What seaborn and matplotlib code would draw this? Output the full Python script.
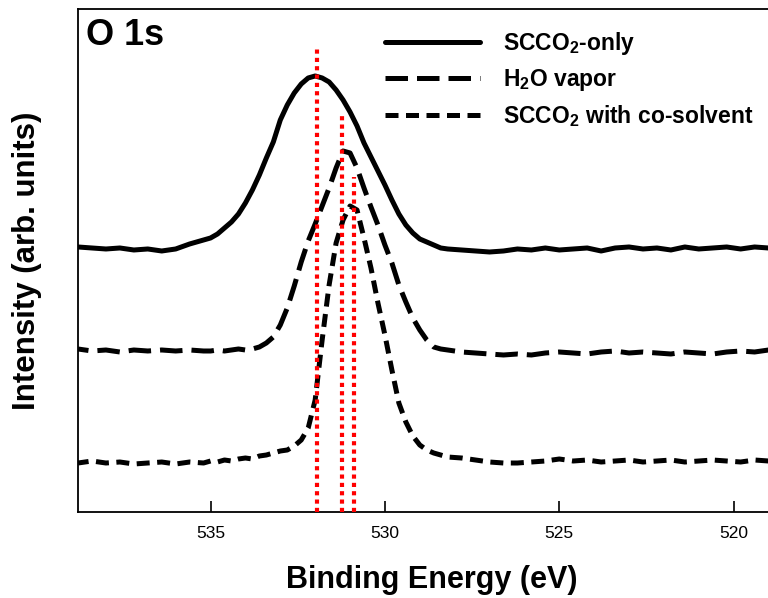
import matplotlib
matplotlib.use("Agg")
import matplotlib.pyplot as plt
import seaborn as sns
import pandas as pd

# ---------------- data ----------------
energy = [538.8, 538.4, 538.0, 537.6, 537.2, 536.8, 536.4, 536.0, 535.6, 535.2,
          535.0, 534.8, 534.6, 534.4, 534.2, 534.0, 533.8, 533.6, 533.4, 533.2,
          533.0, 532.8, 532.6, 532.4, 532.2, 532.0, 531.8, 531.6, 531.4, 531.2,
          531.0, 530.8, 530.6, 530.4, 530.2, 530.0, 529.8, 529.6, 529.4, 529.2,
          529.0, 528.8, 528.6, 528.4, 528.2,
          527.8, 527.4, 527.0, 526.6, 526.2, 525.8, 525.4, 525.0, 524.6, 524.2,
          523.8, 523.4, 523.0, 522.6, 522.2, 521.8, 521.4, 521.0, 520.6, 520.2,
          519.8, 519.4, 519.0]

scco2_only = [265, 264, 263, 264, 262, 263, 261, 263, 268, 272,
              274, 278, 284, 290, 298, 309, 322, 337, 354, 370,
              392, 407, 419, 428, 434, 436, 434, 430, 422, 412,
              400, 386, 369, 355, 341, 327, 312, 298, 287, 279,
              273, 270, 267, 264, 263,
              262, 261, 260, 261, 263, 262, 264, 262, 263, 264,
              261, 264, 265, 263, 264, 262, 265, 263, 264, 265,
              263, 265, 264]

h2o_vapor = [163, 161, 162, 160, 162, 161, 162, 161, 162, 161,
             161, 162, 161, 162, 163, 162, 163, 165, 169, 175,
             187, 204, 226, 250, 271, 288, 306, 324, 344, 361,
             359, 344, 324, 305, 287, 267, 249, 227, 210, 194,
             182, 172, 165, 163, 162,
             160, 159, 158, 157, 158, 157, 159, 160, 159, 158,
             160, 161, 159, 160, 159, 158, 160, 159, 158, 160,
             161, 160, 162]

scco2_cosolvent = [49, 51, 49, 50, 48, 49, 50, 48, 50, 49,
                   51, 50, 52, 51, 53, 54, 53, 56, 57, 59,
                   61, 62, 66, 72, 84, 112, 172, 227, 269, 292,
                   306, 302, 274, 244, 209, 177, 142, 109, 90, 76,
                   67, 62, 59, 57, 55,
                   54, 52, 50, 49, 49, 50, 51, 53, 51, 52,
                   50, 51, 52, 50, 51, 52, 50, 51, 52, 51,
                   50, 52, 51]

series_labels = [r"SCCO$_\mathbf{2}$-only", r"H$_\mathbf{2}$O vapor",
                 r"SCCO$_\mathbf{2}$ with co-solvent"]
peak_positions = [531.96, 531.24, 530.88]
peak_line_tops = [464, 400, 335]
xticks = [535, 530, 525, 520]

# ---------------- style ----------------
sns.set_theme(style="white")
plt.rcParams["font.family"] = ["Liberation Sans", "DejaVu Sans"]
plt.rcParams["mathtext.fontset"] = "custom"
plt.rcParams["mathtext.rm"] = "Liberation Sans"
plt.rcParams["mathtext.bf"] = "Liberation Sans:bold"
plt.rcParams["mathtext.it"] = "Liberation Sans:italic"
plt.rcParams["text.color"] = "black"
plt.rcParams["axes.labelcolor"] = "black"
plt.rcParams["xtick.color"] = "black"

fig = plt.figure(figsize=(7.68, 5.98), dpi=100)
ax = fig.add_axes([0.1016, 0.1438, 0.9, 0.8412])

styles = ["-", (0, (4.5, 1.8)), (0, (2.6, 1.5))]
all_series = [scco2_only, h2o_vapor, scco2_cosolvent]
for vals, lab, ls in zip(all_series, series_labels, styles):
    df = pd.DataFrame({"Binding Energy": energy, "Intensity": vals})
    sns.lineplot(data=df, x="Binding Energy", y="Intensity", ax=ax,
                 color="black", lw=3.6, linestyle=ls, label=lab,
                 dash_capstyle="butt", solid_capstyle="round")

ax.vlines(peak_positions, 0, peak_line_tops, colors="#ff0000",
          linestyles=(0, (1, 1)), lw=3.0, zorder=5)

ax.set_xlim(538.8, 518.98)
ax.set_ylim(0, 503)
ax.set_xticks(xticks)
ax.set_xticklabels([str(t) for t in xticks], fontsize=12.5)
ax.set_yticks([])
ax.tick_params(axis="x", direction="in", length=8, width=1.2, pad=10,
               bottom=True, colors="black")
for s in ax.spines.values():
    s.set_color("black")
    s.set_linewidth(1.3)

ax.set_xlabel("Binding Energy (eV)", fontsize=22, fontweight="bold")
ax.xaxis.set_label_coords(0.512, -0.105)
ax.set_ylabel("Intensity (arb. units)", fontsize=22.5, fontweight="bold")
ax.yaxis.set_label_coords(-0.052, 0.5)

ax.text(0.012, 0.983, "O 1s", transform=ax.transAxes, fontsize=26,
        fontweight="bold", va="top", ha="left")

leg = ax.legend(loc="upper left", frameon=False,
                handlelength=4.15, handletextpad=1.0, labelspacing=0.45,
                borderpad=0.4, bbox_to_anchor=(0.4146, 1.0),
                prop={"weight": "bold", "size": 16.5})

fig.savefig("out.png", dpi=100)
